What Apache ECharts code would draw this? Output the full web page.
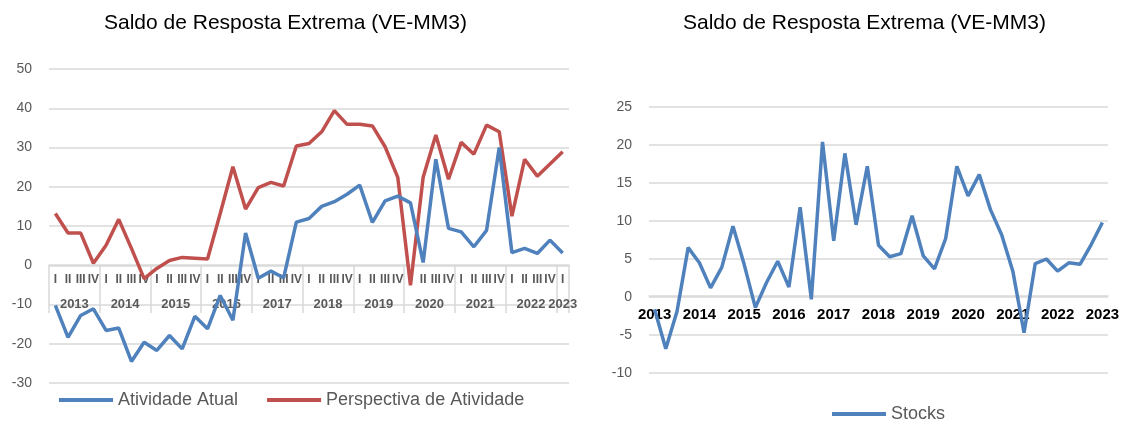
<!DOCTYPE html>
<html>
  <head>
    <meta charset="utf-8" />
    <title>Saldo de Resposta Extrema</title>
    <script src="https://cdn.jsdelivr.net/npm/echarts@6/dist/echarts.min.js"></script>
  </head>
  <body style="margin:0">
    <div id="main" style="width: 1122px;height:421px; background-color: white"></div>
    <script type="text/javascript">
      // anos e trimestres (2013 T1 .. 2023 T1)
      var years = ['2013','2014','2015','2016','2017','2018','2019','2020','2021','2022','2023'];
      var quarters = ['I','II','III','IV'];

      // Saldo de resposta extrema, media movel 3 meses
      var atividadeAtual = [-10.2,-18.4,-12.8,-11.1,-16.6,-16.0,-24.5,-19.6,-21.7,-17.9,
        -21.3,-13.0,-16.2,-7.7,-14.0,8.2,-3.3,-1.5,-3.2,11.0,
        11.9,15.0,16.2,18.1,20.4,10.9,16.4,17.6,15.9,0.7,
        27.0,9.4,8.5,4.7,8.9,30.0,3.2,4.3,3.0,6.4,3.1];
      var perspectivaAtividade = [13.2,8.2,8.2,0.5,5.1,11.7,4.3,-3.4,-0.8,1.2,
        2.0,1.8,1.6,13.2,25.1,14.3,19.8,21.1,20.2,30.4,
        31.0,34.0,39.4,35.9,35.9,35.5,30.2,22.4,-5.1,22.4,
        33.2,21.9,31.3,28.3,35.7,34.0,12.5,27.0,22.7,25.8,28.9];
      var stocks = [-1.6,-6.8,-1.9,6.5,4.5,1.2,3.9,9.3,4.3,-1.4,
        1.9,4.7,1.3,11.8,-0.3,20.4,7.4,18.9,9.5,17.2,
        6.8,5.3,5.7,10.7,5.4,3.7,7.7,17.2,13.3,16.1,
        11.5,8.2,3.4,-4.7,4.4,5.0,3.4,4.5,4.3,6.9,9.8];

      // categorias: trimestre no grafico da esquerda, ano (so no T1) no da direita
      var quarterCats = [];
      var yearCats = [];
      for (var i = 0; i < atividadeAtual.length; i++) {
        quarterCats.push(quarters[i % 4]);
        yearCats.push(i % 4 === 0 ? years[i / 4] : '');
      }
      var n = quarterCats.length;
      // limites dos anos e centro de cada bloco (em unidades de trimestre)
      var yearBounds = [];
      var yearCenters = [];
      for (var k = 0; k < years.length; k++) {
        var s = k * 4, e = Math.min(k * 4 + 4, n);
        yearBounds.push(s);
        yearCenters.push((s + e) / 2);
      }
      yearBounds.push(n);

      var font = 'Liberation Sans, Arial, sans-serif';
      var gridColor = '#d9d9d9';
      var textGray = '#595959';
      var blue = '#4f81bd';
      var red = '#c0504d';

      var myChart = echarts.init(document.getElementById('main'));

      // grades 2 e 3 vao do topo ate o zero, so para pendurar o eixo x no zero
      var option = {
        animation: false,
        textStyle: { fontFamily: font },
        title: [
          { text: 'Saldo de Resposta Extrema (VE-MM3)', left: 104, top: 13, padding: 0,
            textStyle: { fontSize: 21, fontWeight: 'normal', color: '#000', fontFamily: font } },
          { text: 'Saldo de Resposta Extrema (VE-MM3)', left: 683, top: 13, padding: 0,
            textStyle: { fontSize: 21, fontWeight: 'normal', color: '#000', fontFamily: font } }
        ],
        legend: [
          { data: ['Atividade Atual', 'Perspectiva de Atividade'], left: 59, top: 391, padding: 0,
            icon: 'rect', itemWidth: 54, itemHeight: 4, itemGap: 29,
            textStyle: { fontSize: 18, color: textGray, fontFamily: font } },
          { data: ['Stocks'], left: 832, top: 405, padding: 0,
            icon: 'rect', itemWidth: 54, itemHeight: 4,
            textStyle: { fontSize: 18, color: textGray, fontFamily: font } }
        ],
        grid: [
          { left: 49, top: 69, width: 520, height: 314, outerBoundsMode: 'none' },
          { left: 649, top: 107, width: 459, height: 266, outerBoundsMode: 'none' },
          { left: 49, top: 69, width: 520, height: 196, outerBoundsMode: 'none' },
          { left: 649, top: 107, width: 459, height: 189, outerBoundsMode: 'none' }
        ],
        xAxis: [
          { type: 'category', gridIndex: 0, data: quarterCats, boundaryGap: true, show: false },
          { type: 'category', gridIndex: 1, data: yearCats, boundaryGap: true, show: false },
          {
            type: 'category', gridIndex: 2, data: quarterCats, boundaryGap: true, position: 'bottom',
            axisLine: { onZero: false, lineStyle: { color: gridColor, width: 1.5 } },
            axisTick: { show: false },
            axisLabel: { interval: 0, margin: 9, fontSize: 12, fontWeight: 'bold', color: textGray, fontFamily: font }
          },
          {
            // separadores e rotulos de ano
            type: 'value', gridIndex: 2, min: 0, max: n, position: 'bottom',
            axisLine: { show: false, onZero: false },
            splitLine: { show: false },
            axisTick: { show: true, customValues: yearBounds, length: 48, lineStyle: { color: gridColor, width: 1.5 } },
            axisLabel: {
              customValues: yearCenters, margin: 33, fontSize: 13, fontWeight: 'bold', color: textGray, fontFamily: font,
              formatter: function (v) {
                var idx = yearCenters.indexOf(v);
                return idx >= 0 ? years[idx] : '';
              }
            }
          },
          {
            type: 'category', gridIndex: 3, data: yearCats, boundaryGap: true, position: 'bottom',
            axisLine: { onZero: false, lineStyle: { color: gridColor, width: 1.5 } },
            axisTick: { show: false },
            axisLabel: { interval: 0, margin: 11, fontSize: 15, fontWeight: 'bold', color: '#000', fontFamily: font }
          }
        ],
        yAxis: [
          {
            type: 'value', gridIndex: 0, min: -30, max: 50, interval: 10,
            axisLine: { show: false }, axisTick: { show: false },
            splitLine: { lineStyle: { color: gridColor, width: 1.5 } },
            axisLabel: { margin: 17, fontSize: 14, color: textGray, fontFamily: font }
          },
          {
            type: 'value', gridIndex: 1, min: -10, max: 25, interval: 5,
            axisLine: { show: false }, axisTick: { show: false },
            splitLine: { lineStyle: { color: gridColor, width: 1.5 } },
            axisLabel: { margin: 17, fontSize: 14, color: textGray, fontFamily: font }
          },
          { type: 'value', gridIndex: 2, min: 0, max: 1, show: false, splitLine: { show: false } },
          { type: 'value', gridIndex: 3, min: 0, max: 1, show: false, splitLine: { show: false } }
        ],
        series: [
          {
            name: 'Atividade Atual', type: 'line', xAxisIndex: 0, yAxisIndex: 0,
            data: atividadeAtual, showSymbol: false, symbol: 'none',
            lineStyle: { color: blue, width: 3.5 }, itemStyle: { color: blue }, z: 3
          },
          {
            name: 'Perspectiva de Atividade', type: 'line', xAxisIndex: 0, yAxisIndex: 0,
            data: perspectivaAtividade, showSymbol: false, symbol: 'none',
            lineStyle: { color: red, width: 3.5 }, itemStyle: { color: red }, z: 2
          },
          {
            name: 'Stocks', type: 'line', xAxisIndex: 1, yAxisIndex: 1,
            data: stocks, showSymbol: false, symbol: 'none',
            lineStyle: { color: blue, width: 3.5 }, itemStyle: { color: blue }
          }
        ]
      };

      myChart.setOption(option);
    </script>
  </body>
</html>
